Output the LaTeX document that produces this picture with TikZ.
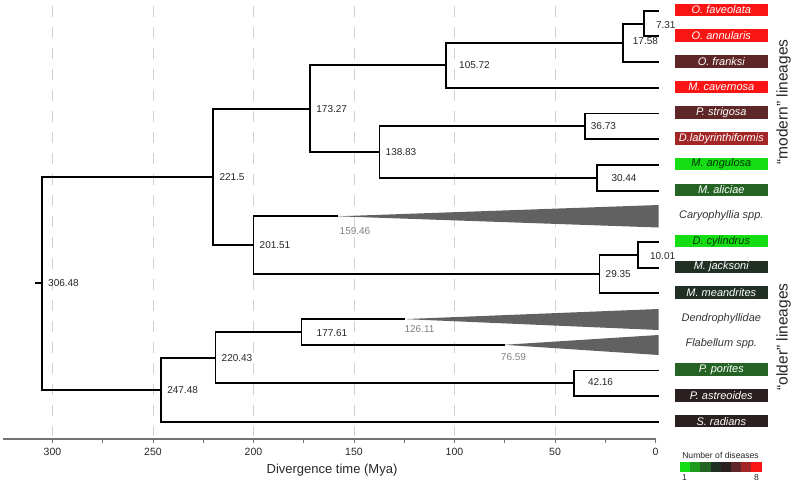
\documentclass[tikz,border=0pt]{standalone}
\usepackage{fontspec}
\setmainfont{Liberation Sans}
\begin{document}
\begin{tikzpicture}[x=1pt,y=-1pt,
  branch/.style={line width=1.9pt,line cap=rect},
  grid/.style={draw=black!18,line width=0.8pt,dash pattern=on 11pt off 10pt,dash phase=-3pt},
  nlbl/.style={anchor=west,inner sep=0pt,xshift=6pt,font=\fontsize{10}{12}\selectfont,text=black!85},
  glbl/.style={inner sep=0pt,font=\fontsize{10}{12}\selectfont,text=black!50},
  tipbox/.style={minimum width=93pt,minimum height=12.5pt,inner sep=0pt,text=white,font=\fontsize{11}{13}\selectfont\itshape},
  tipplain/.style={inner sep=0pt,text=black!80,font=\fontsize{11}{13}\selectfont\itshape},
  clade/.style={fill=black!62,draw=none},
  axlbl/.style={inner sep=0pt,font=\fontsize{10.5}{12}\selectfont,text=black!85},
  side/.style={rotate=90,inner sep=0pt,font=\fontsize{15.5}{18}\selectfont,text=black!85}
]
\definecolor{c1}{HTML}{14DD14}
\definecolor{c2}{HTML}{1E9A1E}
\definecolor{c3}{HTML}{256325}
\definecolor{c4}{HTML}{213024}
\definecolor{c5}{HTML}{2B2020}
\definecolor{c6}{HTML}{5E2626}
\definecolor{c7}{HTML}{A32626}
\definecolor{c8}{HTML}{FA1414}
\useasboundingbox (0,0) rectangle (794,485);
% grid lines
\foreach \t in {300,250,200,150,100,50}
  \draw[grid] ({655.5-2.01*\t},3) -- ({655.5-2.01*\t},436);
% axis
\coordinate (axL) at (3,439);
\coordinate (axR) at (655.5,439);
\draw[black!55,line width=1.2pt] (axL) -- (axR);
\foreach \t in {0,25,...,300}
  \draw[black!55,line width=0.9pt] ({655.5-2.01*\t},439) -- ({655.5-2.01*\t},443);
\foreach \t in {300,250,200,150,100,50,0}
  \node[axlbl] at ({655.5-2.01*\t},452) {\t};
\node[inner sep=0pt,font=\fontsize{13}{15}\selectfont,text=black!85] (xlab) at (332,470) {Divergence time (Mya)};
% clade triangles
\coordinate (caryT) at (337.5,216.3);
\coordinate (dendT) at (404.5,319.1);
\coordinate (flabT) at (504,344.8);
\fill[clade] (caryT) -- (658.5,205) -- (658.5,227.5) -- cycle;
\fill[clade] (dendT) -- (658.5,309) -- (658.5,330) -- cycle;
\fill[clade] (flabT) -- (658.5,335) -- (658.5,355) -- cycle;
% internal nodes
\coordinate (root) at (42.0,283.4);
\coordinate (A) at (213.3,176.95);
\coordinate (B) at (161.1,389.8);
\coordinate (C) at (310.2,108.7);
\coordinate (D) at (253.5,245.2);
\coordinate (E) at (446.0,65.3);
\coordinate (F) at (379.5,152.05);
\coordinate (G) at (623.2,42.8);
\coordinate (H) at (643.8,23.55);
\coordinate (I) at (584.7,126.35);
\coordinate (J) at (597.3,177.75);
\coordinate (K) at (599.5,274.1);
\coordinate (L) at (638.4,254.85);
\coordinate (N) at (215.5,357.65);
\coordinate (O) at (301.5,331.95);
\coordinate (P) at (573.8,383.35);
\coordinate (rootstub) at (36,283.4);
% tips
\foreach \i/\n in {0/t0,1/t1,2/t2,3/t3,4/t4,5/t5,6/t6,7/t7,9/t9,10/t10,11/t11,14/t14,15/t15,16/t16}
  \coordinate (\n) at (658.5,{10.7+25.7*\i});
% branches
\draw[branch] (rootstub) -- (root);
\draw[branch] (root) |- (A);
\draw[branch] (root) |- (B);
\draw[branch] (A) |- (C);
\draw[branch] (A) |- (D);
\draw[branch] (C) |- (E);
\draw[branch] (C) |- (F);
\draw[branch] (E) |- (G);
\draw[branch] (E) |- (t3);
\draw[branch] (G) |- (H);
\draw[branch] (G) |- (t2);
\draw[branch] (H) |- (t0);
\draw[branch] (H) |- (t1);
\draw[branch] (F) |- (I);
\draw[branch] (F) |- (J);
\draw[branch] (I) |- (t4);
\draw[branch] (I) |- (t5);
\draw[branch] (J) |- (t6);
\draw[branch] (J) |- (t7);
\draw[branch] (D) |- (caryT);
\draw[branch] (D) |- (K);
\draw[branch] (K) |- (L);
\draw[branch] (K) |- (t11);
\draw[branch] (L) |- (t9);
\draw[branch] (L) |- (t10);
\draw[branch] (B) |- (N);
\draw[branch] (B) |- (t16);
\draw[branch] (N) |- (O);
\draw[branch] (N) |- (P);
\draw[branch] (O) |- (dendT);
\draw[branch] (O) |- (flabT);
\draw[branch] (P) |- (t14);
\draw[branch] (P) |- (t15);
% node labels
\node[nlbl] at (root) {306.48};
\node[nlbl] at (A) {221.5};
\node[nlbl] at (B) {247.48};
\node[nlbl] at (C) {173.27};
\node[nlbl] at (D) {201.51};
\node[nlbl,xshift=7pt] at (E) {105.72};
\node[nlbl] at (F) {138.83};
\node[nlbl,yshift=2pt,xshift=3.5pt] at (G) {17.58};
\node[nlbl,yshift=-1.5pt,xshift=6pt] at (H) {7.31};
\node[nlbl] at (I) {36.73};
\node[nlbl,xshift=8pt] at (J) {30.44};
\node[nlbl] at (K) {29.35};
\node[nlbl,xshift=5.5pt,yshift=-1.5pt] at (L) {10.01};
\node[nlbl] at (N) {220.43};
\node[nlbl,xshift=9pt,yshift=-1pt] at (O) {177.61};
\node[nlbl,xshift=8pt,yshift=1pt] at (P) {42.16};
\node[glbl] at (355,230.7) {159.46};
\node[glbl] at (419.5,329) {126.11};
\node[glbl] at (513.5,356.7) {76.59};
% tip labels
\node[tipbox,fill=c8] (n0) at (721.3,9.9) {O. faveolata};
\node[tipbox,fill=c8] (n1) at (721.3,35.6) {O. annularis};
\node[tipbox,fill=c6] (n2) at (721.3,61.3) {O. franksi};
\node[tipbox,fill=c8] (n3) at (721.3,87.0) {M. cavernosa};
\node[tipbox,fill=c6] (n4) at (721.3,112.7) {P. strigosa};
\node[tipbox,fill=c7] (n5) at (721.3,138.4) {D.labyrinthiformis};
\node[tipbox,fill=c1,text=black!80!green] (n6) at (721.3,164.1) {M. angulosa};
\node[tipbox,fill=c3] (n7) at (721.3,189.8) {M. aliciae};
\node[tipplain] (n8) at (721.3,215.5) {Caryophyllia spp.};
\node[tipbox,fill=c1,text=black!80!green] (n9) at (721.3,241.2) {D. cylindrus};
\node[tipbox,fill=c4] (n10) at (721.3,266.9) {M. jacksoni};
\node[tipbox,fill=c4] (n11) at (721.3,292.6) {M. meandrites};
\node[tipplain] (n12) at (721.3,318.3) {Dendrophyllidae};
\node[tipplain] (n13) at (721.3,344.0) {Flabellum spp.};
\node[tipbox,fill=c3] (n14) at (721.3,369.7) {P. porites};
\node[tipbox,fill=c5] (n15) at (721.3,395.4) {P. astreoides};
\node[tipbox,fill=c5] (n16) at (721.3,421.1) {S. radians};
% side labels
\node[side] (modern) at (783.5,102) {“modern” lineages};
\node[side] (older) at (783.5,337) {“older” lineages};
% legend
\node[inner sep=0pt,font=\fontsize{8.6}{10}\selectfont,text=black!85] (legt) at (720.5,455) {Number of diseases};
\foreach \k in {1,...,8}
  \fill[c\k] ({680+10.2*(\k-1)},462.3) rectangle ({680+10.2*\k},472.3);
\node[inner sep=0pt,font=\fontsize{8.6}{10}\selectfont,text=black!85] (leg1) at (684.5,478) {1};
\node[inner sep=0pt,font=\fontsize{8.6}{10}\selectfont,text=black!85] (leg8) at (756.5,478) {8};
\end{tikzpicture}
\end{document}
